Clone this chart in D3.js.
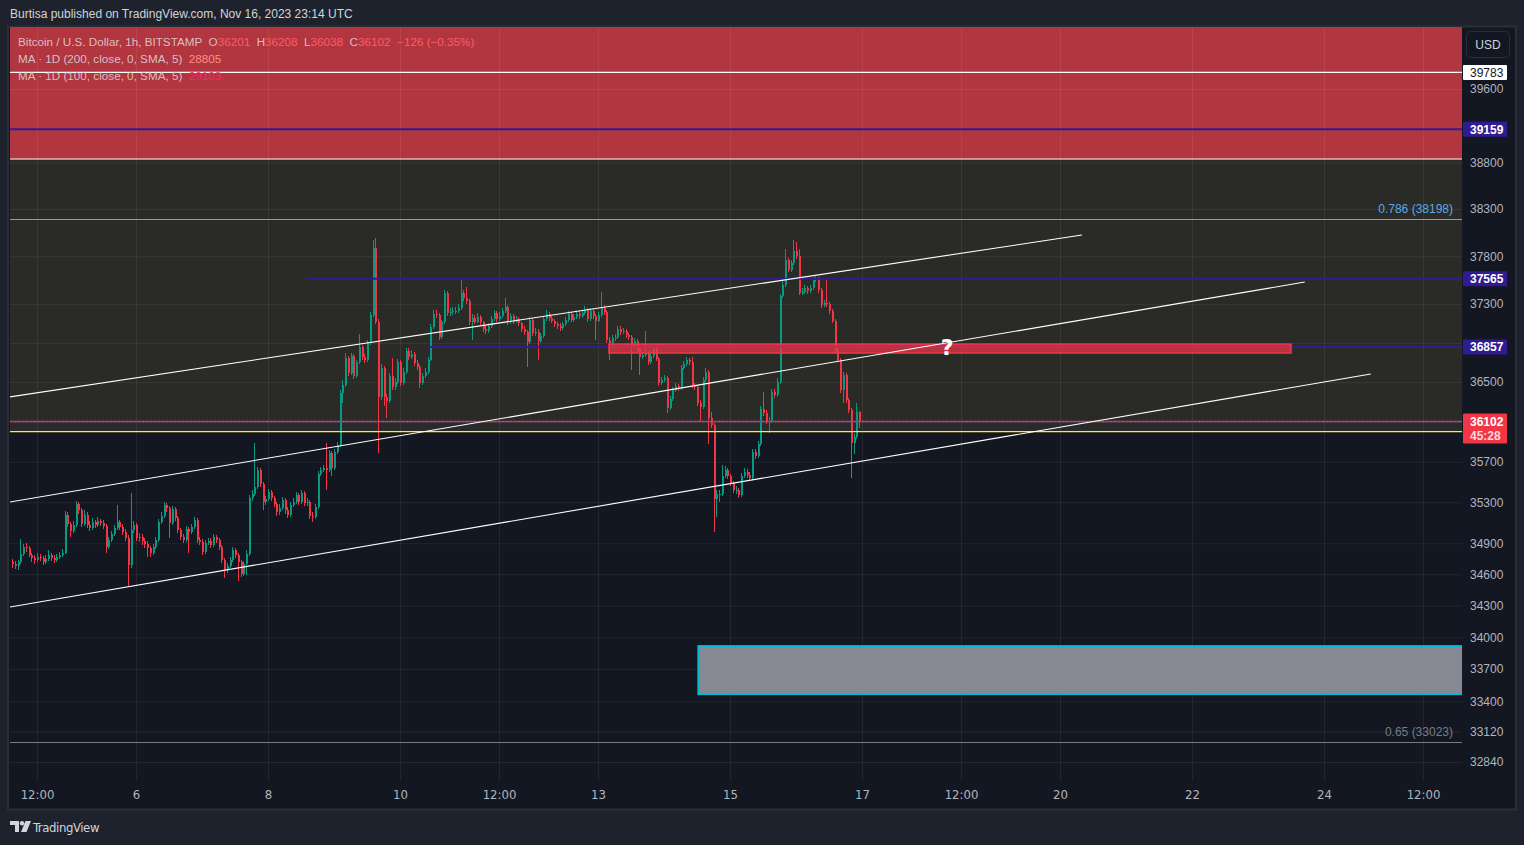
<!DOCTYPE html>
<html><head><meta charset="utf-8">
<script src="https://cdn.jsdelivr.net/npm/d3@7"></script>
<style>
html,body{margin:0;padding:0;background:#1e222d;overflow:hidden;}
svg{display:block;font-family:"Liberation Sans",Arial,sans-serif;}
</style></head><body>
<svg id="c" width="1524" height="845"></svg>
<script>
// ---------------- DATA ----------------
const firstCandle = "2023-11-04T03:00:00Z"; // hourly candles
const firstOpen = 34720;
const closes = [
34700,34680,34720,34800,34860,34850,34790,34760,34740,34770,34760,34720,
34750,34790,34760,34740,34770,34790,34810,35180,35090,35020,35080,35280,
35220,35090,35180,35080,35050,35110,35080,35120,35100,35070,34860,34930,
34990,35050,35110,35060,35010,34950,34690,35030,35080,34950,34960,34920,
34890,34850,34810,34860,34930,35110,35170,35270,35240,35100,35230,35150,
35030,34960,34930,35040,35010,35060,35130,34930,34910,34820,34900,34920,
34880,34960,34930,34860,34740,34640,34680,34740,34830,34790,34720,34600,
34700,34800,35340,35380,35450,35620,35480,35300,35330,35400,35340,35280,
35200,35240,35320,35220,35180,35270,35300,35370,35300,35390,35290,35300,
35170,35160,35250,35580,35620,35640,35620,35790,35640,35800,35870,36390,
36470,36750,36590,36770,36560,36700,36860,36760,36720,36900,37190,37890,
37120,36350,36640,36350,36310,36560,36450,36500,36700,36490,36600,36820,
36760,36790,36690,36650,36490,36560,36600,36730,37060,37200,37190,36960,
37110,37420,37210,37220,37230,37230,37260,37420,37360,37330,37110,37160,
37120,37170,37110,37040,37020,37070,37150,37210,37150,37180,37230,37270,
37110,37180,37120,37150,37100,37040,37010,36910,37140,37000,37010,36920,
36970,37150,37200,37160,37130,37090,37070,37050,37090,37140,37200,37140,
37170,37200,37180,37210,37240,37150,37230,37180,37130,37190,37260,37220,
36930,36900,36950,36960,37040,37010,37020,36980,36960,36880,36920,36840,
36760,36780,36800,36700,36770,36840,36740,36490,36520,36540,36240,36330,
36420,36460,36440,36640,36680,36720,36700,36470,36450,36290,36250,36520,
36600,36140,36070,35330,35380,35380,35560,35620,35560,35490,35420,35420,
35370,35560,35600,35570,35540,35800,35760,35880,36230,36190,36110,36110,
36400,36370,36500,37380,37500,37760,37660,37730,37860,37800,37420,37430,
37470,37440,37470,37550,37560,37450,37290,37310,37300,37230,37130,36830,
36730,36420,36570,36320,36220,35890,35950,36201,36102];
const highs = [
34750,34730,34740,34940,34890,34900,34870,34810,34790,34810,34800,34780,
34790,34830,34810,34790,34800,34820,34840,35210,35200,35110,35120,35310,
35300,35240,35220,35200,35120,35150,35130,35160,35140,35130,35090,34960,
35020,35080,35270,35130,35090,35040,34980,35390,35120,35100,35000,34990,
34950,34920,34870,34890,34960,35140,35200,35300,35290,35260,35260,35250,
35170,35050,34990,35070,35060,35090,35160,35150,34960,34940,34930,34950,
34950,34990,34980,34950,34880,34760,34710,34770,34860,34850,34810,34740,
34730,34830,35370,35420,35890,35650,35640,35500,35360,35430,35420,35360,
35300,35280,35350,35340,35250,35300,35340,35400,35390,35420,35410,35340,
35320,35200,35280,35610,35650,35670,35890,35820,35810,35830,35900,36420,
36520,36800,36770,36800,36790,36730,36990,36880,36790,36930,37220,37970,
37990,37150,36680,36660,36380,36590,36750,36540,36740,36720,36640,36850,
36850,36830,36810,36720,36670,36590,36640,36760,37090,37240,37240,37210,
37140,37450,37440,37260,37270,37270,37300,37550,37450,37480,37350,37200,
37190,37210,37190,37130,37070,37100,37180,37240,37230,37220,37260,37360,
37290,37210,37200,37180,37170,37120,37070,37030,37170,37160,37050,37040,
37000,37180,37240,37220,37180,37150,37120,37100,37120,37170,37230,37220,
37200,37230,37230,37240,37280,37260,37260,37250,37200,37220,37430,37290,
37240,36960,36980,36990,37070,37070,37050,37040,37000,36980,36950,36940,
36860,36810,37020,36820,36800,36870,36860,36760,36550,36570,36560,36360,
36450,36490,36480,36670,36710,36760,36750,36760,36490,36470,36320,36550,
36640,36620,36200,36090,35420,35420,35670,35660,35640,35580,35510,35460,
35440,35590,35640,35630,35600,35830,35830,35910,36260,36400,36220,36150,
36430,36430,36540,37410,37540,37880,37780,37760,37970,37950,37880,37470,
37500,37490,37500,37580,37590,37580,37470,37340,37550,37320,37250,37150,
36850,36750,36600,36590,36340,36240,35990,36290,36208];
const lows = [
34660,34650,34640,34700,34780,34820,34770,34720,34700,34720,34730,34690,
34700,34730,34730,34710,34720,34750,34770,34800,35060,34960,35000,35060,
35190,35060,35070,35050,35020,35030,35050,35060,35070,35040,34810,34840,
34910,34970,35030,35030,34980,34920,34490,34660,35000,34920,34910,34880,
34850,34770,34770,34790,34840,34910,35090,35150,35200,34950,35080,35120,
35000,34930,34900,34910,34810,34990,35040,34900,34880,34790,34800,34880,
34850,34860,34900,34830,34710,34560,34610,34660,34720,34760,34540,34570,
34580,34590,34780,35310,35360,35430,35450,35220,35270,35310,35310,35250,
35170,35180,35220,35190,35150,35160,35250,35280,35270,35280,35260,35260,
35140,35110,35140,35230,35560,35600,35420,35600,35560,35620,35780,35850,
36290,36450,36560,36570,36530,36540,36680,36730,36690,36700,36880,37170,
37090,35790,36320,36260,36140,36290,36420,36420,36480,36460,36470,36580,
36730,36740,36660,36620,36440,36470,36540,36580,36710,37040,37160,36930,
36940,37090,37180,37180,37190,37200,37210,37240,37330,37300,37080,36930,
37090,37100,37080,37010,36990,37000,37050,37130,37120,37130,37160,37210,
37080,37090,37090,37100,37070,37010,36980,36650,36890,36970,36970,36720,
36900,36950,37130,37130,37100,37060,37040,37020,37030,37070,37120,37110,
37120,37150,37150,37160,37190,37120,37130,37150,36930,37110,37170,37190,
36900,36720,36880,36920,36940,36980,36990,36950,36930,36620,36860,36810,
36570,36740,36760,36670,36680,36750,36710,36460,36470,36500,36190,36220,
36310,36400,36410,36420,36620,36660,36670,36440,36420,36260,36110,36230,
36500,35880,36040,35010,35160,35300,35360,35540,35530,35460,35390,35380,
35340,35350,35540,35540,35510,35520,35730,35740,35860,36160,36080,35990,
36090,36340,36350,36480,37360,37480,37630,37640,37710,37770,37390,37390,
37410,37410,37420,37450,37530,37420,37260,37270,37270,37200,37100,36800,
36700,36390,36290,36290,36190,35540,35780,35930,36038];

const yTickValues = [39600,38800,38300,37800,37300,36900,36500,36100,35700,35300,34900,34600,34300,34000,33700,33400,33120,32840];
const xTickDates = ["2023-11-04T12:00:00Z","2023-11-06T00:00:00Z","2023-11-08T00:00:00Z","2023-11-10T00:00:00Z","2023-11-11T12:00:00Z","2023-11-13T00:00:00Z","2023-11-15T00:00:00Z","2023-11-17T00:00:00Z","2023-11-18T12:00:00Z","2023-11-20T00:00:00Z","2023-11-22T00:00:00Z","2023-11-24T00:00:00Z","2023-11-25T12:00:00Z"];
const xTickLabels = ["12:00","6","8","10","12:00","13","15","17","12:00","20","22","24","12:00"];

// zones & drawings (time / price)
const redZonePrices = [40400, 38836];
const oliveZonePrices = [38836, 36000];
const fibLevels = [{label:"0.786 (38198)", price:38198, color:"#5ea7e6"},{label:"0.65 (33023)", price:33023, color:"#787b86"}];
const purpleLevels = [{price:39159, from:"2023-11-03T00:00:00Z"},{price:37565, from:"2023-11-08T14:00:00Z"},{price:36857, from:"2023-11-10T10:00:00Z"}];
const whiteLevel = 39783;
const yellowLevel = 36000;
const lastPrice = 36102, countdown = "45:28";
const resistBox = {t0:"2023-11-13T04:00:00Z", t1:"2023-11-23T12:00:00Z", p0:36888, p1:36796};
const questionMark = {t:"2023-11-18T07:00:00Z", p:36858, text:"?"};
const demandBox = {t0:"2023-11-14T12:30:00Z", t1:"2023-11-27T00:00:00Z", p0:33916, p1:33466};
const channelLines = [
  {t0:"2023-11-04T02:00:00Z", p0:36349, t1:"2023-11-20T08:00:00Z", p1:38024},
  {t0:"2023-11-04T02:00:00Z", p0:35302, t1:"2023-11-23T17:00:00Z", p1:37530},
  {t0:"2023-11-04T02:00:00Z", p0:34286, t1:"2023-11-24T17:00:00Z", p1:36582}];
const legendRows = [
  [["Bitcoin / U.S. Dollar, 1h, BITSTAMP  O","l"],["36201","v"],["  H","l"],["36208","v"],["  L","l"],["36038","v"],["  C","l"],["36102","v"],["  −126 (−0.35%)","v"]],
  [["MA · 1D (200, close, 0, SMA, 5)  ","l"],["28805","m1"]],
  [["MA · 1D (100, close, 0, SMA, 5)  ","l"],["29103","m2"]]];

// ---------------- LAYOUT ----------------
const L = 10, R = 1462, T = 27, B = 781;
const svg = d3.select("#c");
const x = d3.scaleUtc().domain([new Date("2023-11-06T00:00:00Z"), new Date("2023-11-26T00:00:00Z")]).range([136, 1456]);
const y = d3.scaleLog().domain([39600, 32840]).range([89, 762]);
const D = s => new Date(s);

// header
svg.append("rect").attr("width",1524).attr("height",845).attr("fill","#1e222d");
svg.append("text").attr("x",10).attr("y",18).attr("fill","#d1d4dc").attr("font-size",12)
  .text("Burtisa published on TradingView.com, Nov 16, 2023 23:14 UTC");
// frame
svg.append("rect").attr("x",8).attr("y",26.5).attr("width",1508).attr("height",783).attr("fill","#131722").attr("stroke","#2a2e39").attr("stroke-width",2);

const defs = svg.append("defs");
defs.append("clipPath").attr("id","plot").append("rect").attr("x",L).attr("y",T).attr("width",R-L).attr("height",B-T);
const g = svg.append("g").attr("clip-path","url(#plot)");

// zones
g.append("rect").attr("x",L-5).attr("width",R-L+10).attr("y",y(redZonePrices[0])).attr("height",y(redZonePrices[1])-y(redZonePrices[0])).attr("fill","#b2363f");
g.append("rect").attr("x",L-5).attr("width",R-L+10).attr("y",y(oliveZonePrices[0])).attr("height",y(oliveZonePrices[1])-y(oliveZonePrices[0])).attr("fill","#2a2b26");
g.append("line").attr("x1",L).attr("x2",R).attr("y1",y(redZonePrices[1])).attr("y2",y(redZonePrices[1])).attr("stroke","#ffffff").attr("stroke-width",1);

// grid
const gy = g.append("g").attr("transform",`translate(${L},0)`)
  .call(d3.axisRight(y).tickValues(yTickValues).tickSize(R-L).tickFormat(""));
gy.select(".domain").remove();
gy.selectAll("line").attr("stroke","rgba(255,255,255,0.065)");
const gx = g.append("g").attr("transform",`translate(0,${T})`)
  .call(d3.axisBottom(x).tickValues(xTickDates.map(D)).tickSize(B-T).tickFormat(""));
gx.select(".domain").remove();
gx.selectAll("line").attr("stroke","rgba(255,255,255,0.065)");

// fib levels
fibLevels.forEach(f=>{
  g.append("line").attr("x1",L).attr("x2",R).attr("y1",Math.round(y(f.price))+0.5).attr("y2",Math.round(y(f.price))+0.5).attr("stroke",f.color).attr("stroke-width",1);
  g.append("text").attr("x",R-9).attr("y",y(f.price)-6).attr("text-anchor","end").attr("fill",f.color).attr("font-size",12).text(f.label);
});

// demand box
g.append("rect").attr("x",x(D(demandBox.t0))).attr("width",x(D(demandBox.t1))-x(D(demandBox.t0)))
  .attr("y",y(demandBox.p0)).attr("height",y(demandBox.p1)-y(demandBox.p0))
  .attr("fill","#868993").attr("stroke","#00bcd4").attr("stroke-width",2);

// candles
const t0 = D(firstCandle).getTime();
const candles = closes.map((c,i)=>{
  const o = i ? closes[i-1] : firstOpen;
  return {t:new Date(t0+i*3600e3), o, c, h:Math.max(highs[i],o,c), l:Math.min(lows[i],o,c)};
});
const cg = g.append("g").attr("shape-rendering","crispEdges");
cg.selectAll("line.w").data(candles).join("line").attr("class","w")
  .attr("x1",d=>Math.round(x(d.t))+0.5).attr("x2",d=>Math.round(x(d.t))+0.5)
  .attr("y1",d=>y(d.h)).attr("y2",d=>y(d.l))
  .attr("stroke",d=>d.c>=d.o?"#089981":"#f23645").attr("stroke-width",1);
cg.selectAll("rect.b").data(candles).join("rect").attr("class","b")
  .attr("x",d=>Math.round(x(d.t))-0.5).attr("width",2)
  .attr("y",d=>y(Math.max(d.o,d.c))).attr("height",d=>Math.max(1,y(Math.min(d.o,d.c))-y(Math.max(d.o,d.c))))
  .attr("fill",d=>d.c>=d.o?"#089981":"#f23645");

// horizontal levels
g.append("line").attr("x1",L).attr("x2",R).attr("y1",y(whiteLevel)).attr("y2",y(whiteLevel)).attr("stroke","#ffffff").attr("stroke-width",1.2);
purpleLevels.forEach(p=>{
  g.append("line").attr("x1",x(D(p.from))).attr("x2",R).attr("y1",y(p.price)).attr("y2",y(p.price)).attr("stroke","#311b92").attr("stroke-width",2);
});
g.append("line").attr("x1",L).attr("x2",R).attr("y1",y(yellowLevel)).attr("y2",y(yellowLevel)).attr("stroke","#ffeb3b").attr("stroke-width",1.3);
g.append("line").attr("x1",L).attr("x2",R).attr("y1",y(lastPrice)).attr("y2",y(lastPrice)).attr("stroke","#5b4bd6").attr("stroke-width",1.3).attr("stroke-dasharray","2 2").attr("stroke-dashoffset",2);
g.append("line").attr("x1",L).attr("x2",R).attr("y1",y(lastPrice)).attr("y2",y(lastPrice)).attr("stroke","#f23645").attr("stroke-width",1.3).attr("stroke-dasharray","2 2");

// resistance box
g.append("rect").attr("x",x(D(resistBox.t0))).attr("width",x(D(resistBox.t1))-x(D(resistBox.t0)))
  .attr("y",y(resistBox.p0)).attr("height",y(resistBox.p1)-y(resistBox.p0))
  .attr("fill","rgba(242,54,69,0.72)").attr("stroke","#f23645").attr("stroke-width",1.5);

// channel lines
channelLines.forEach(c=>{
  g.append("line").attr("x1",x(D(c.t0))).attr("y1",y(c.p0)).attr("x2",x(D(c.t1))).attr("y2",y(c.p1))
    .attr("stroke","#ffffff").attr("stroke-width",1.1);
});
g.append("text").attr("x",x(D(questionMark.t))).attr("y",y(questionMark.p)+8).attr("text-anchor","middle")
  .attr("fill","#ffffff").attr("font-weight","bold").attr("font-size",22).attr("font-family","'DejaVu Sans',sans-serif").text(questionMark.text);

// legend
const legendColors = {l:"rgba(220,205,208,0.92)", v:"#ff5a66", m1:"#ff8d85", m2:"#ee2a6c"};
legendRows.forEach((row,ri)=>{
  const t = svg.append("text").attr("x",18).attr("y",46+ri*17).attr("font-size",11.7).attr("xml:space","preserve");
  row.forEach(([s,k])=>t.append("tspan").attr("fill",legendColors[k]).text(s));
});

// right axis
const ax = svg.append("g").attr("transform",`translate(${R},0)`)
  .call(d3.axisRight(y).tickValues(yTickValues).tickSize(0).tickPadding(8).tickFormat(d3.format("d")));
ax.select(".domain").remove();
const badges = [{p:whiteLevel, bg:"#ffffff", fg:"#131722", bold:false},
  ...purpleLevels.map(p=>({p:p.price, bg:"#311b92", fg:"#ffffff", bold:true}))];
ax.selectAll("text").attr("fill","#b2b5be").attr("font-size",12).attr("font-family","'Liberation Sans',Arial,sans-serif")
  .attr("display",d=>(badges.some(b=>Math.abs(y(b.p)-y(d))<12) || Math.abs(y(lastPrice)-y(d))<16)?"none":null);

badges.forEach(b=>{
  const yy = y(b.p);
  svg.append("rect").attr("x",R+1).attr("y",yy-7.5).attr("width",44).attr("height",15).attr("fill",b.bg).attr("rx",1);
  svg.append("text").attr("x",R+8).attr("y",yy+4.3).attr("fill",b.fg).attr("font-size",12).attr("font-weight",b.bold?"bold":"normal").text(d3.format("d")(b.p));
});
{
  const yy = y(lastPrice);
  svg.append("rect").attr("x",R+1).attr("y",yy-8).attr("width",44).attr("height",30).attr("fill","#f23645").attr("rx",1);
  svg.append("text").attr("x",R+8).attr("y",yy+4.3).attr("fill","#ffffff").attr("font-size",12).attr("font-weight","bold").text(d3.format("d")(lastPrice));
  svg.append("text").attr("x",R+8).attr("y",yy+18.5).attr("fill","#ffd9dc").attr("font-size",12).attr("font-weight","bold").text(countdown);
}
// USD button
svg.append("rect").attr("x",1466.5).attr("y",31.5).attr("width",43).attr("height",26).attr("rx",4).attr("fill","#131722").attr("stroke","#2a2e39");
svg.append("text").attr("x",1488).attr("y",48.5).attr("text-anchor","middle").attr("fill","#d1d4dc").attr("font-size",12).text("USD");

// bottom axis
const bx = svg.append("g").attr("transform",`translate(0,${B})`)
  .call(d3.axisBottom(x).tickValues(xTickDates.map(D)).tickSize(0).tickPadding(9).tickFormat((d,i)=>xTickLabels[i]));
bx.select(".domain").remove();
bx.selectAll("text").attr("fill","#b2b5be").attr("font-size",13).attr("font-family","'Liberation Sans Narrow','DejaVu Sans Condensed','Liberation Sans',sans-serif");

// TradingView logo
const lg = svg.append("g").attr("transform","translate(10,821)").attr("fill","#d1d4dc");
lg.append("path").attr("d","M0,0 H9 V11 H5 V4 H0 Z");
lg.append("circle").attr("cx",12).attr("cy",2.2).attr("r",2.2);
lg.append("path").attr("d","M15.5,0 H21 L16.5,11 H11 Z");
svg.append("text").attr("x",33).attr("y",832).attr("fill","#d1d4dc").attr("font-size",13).attr("letter-spacing","-0.4")
  .attr("font-family","'Liberation Sans Narrow','DejaVu Sans Condensed','Liberation Sans',sans-serif").text("TradingView");
</script>
</body></html>
